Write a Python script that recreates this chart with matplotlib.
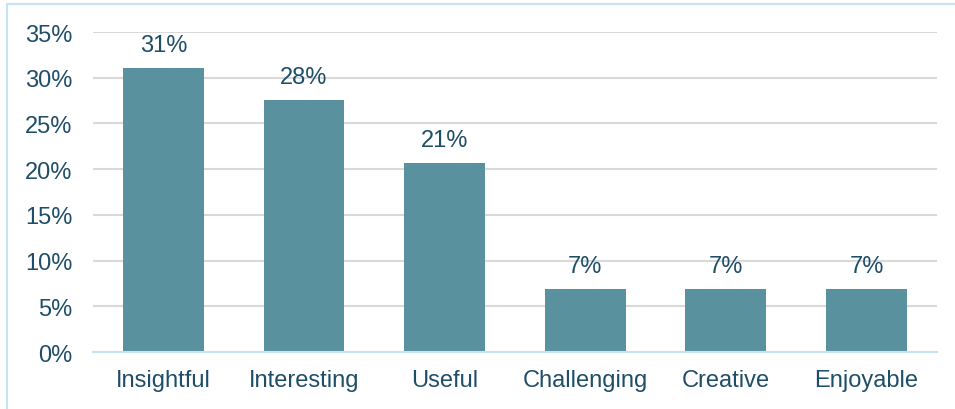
import matplotlib.pyplot as plt
from matplotlib.patches import Rectangle

plt.rcParams['font.family'] = ['Liberation Sans', 'DejaVu Sans']

categories = ['Insightful', 'Interesting', 'Useful', 'Challenging', 'Creative', 'Enjoyable']
shares = [31.03, 27.59, 20.69, 6.90, 6.90, 6.90]
labels = ['31%', '28%', '21%', '7%', '7%', '7%']

text_color = '#1F4E69'
bar_color = '#5A919E'
fs = 17

fig = plt.figure(figsize=(9.55, 4.10), dpi=100)
ax = fig.add_axes([0.0974, 0.139, 0.8836, 0.7805])

x = range(len(categories))
bars = ax.bar(x, shares, width=0.575, color=bar_color, zorder=3)
for b, lab in zip(bars, labels):
    ax.text(b.get_x() + b.get_width() / 2, b.get_height() + 1.3, lab,
            ha='center', va='bottom', fontsize=fs, color=text_color)

ax.set_xlim(-0.5, len(categories) - 0.5)
ax.set_ylim(0, 35)
ax.set_yticks(range(0, 36, 5))
ax.set_yticklabels(['{}%'.format(v) for v in range(0, 36, 5)])
ax.set_xticks(list(x))
ax.set_xticklabels(categories)
ax.tick_params(axis='both', length=0, labelsize=fs, colors=text_color)
ax.tick_params(axis='y', pad=15)
ax.tick_params(axis='x', pad=12)

ax.grid(axis='y', color='#D9D9D9', linewidth=1.5, zorder=0)
for s in ['top', 'right', 'left']:
    ax.spines[s].set_visible(False)
ax.spines['bottom'].set_color('#C5E3F3')
ax.spines['bottom'].set_linewidth(1.5)
ax.spines['bottom'].set_zorder(4)

# thin frame around the chart area
fig.patches.append(Rectangle((7 / 955, -0.05), 1.0, 1.05 - 5 / 410,
                             transform=fig.transFigure, fill=False,
                             edgecolor='#C5E3F3', linewidth=1.5))

fig.savefig('out.png', dpi=100)
